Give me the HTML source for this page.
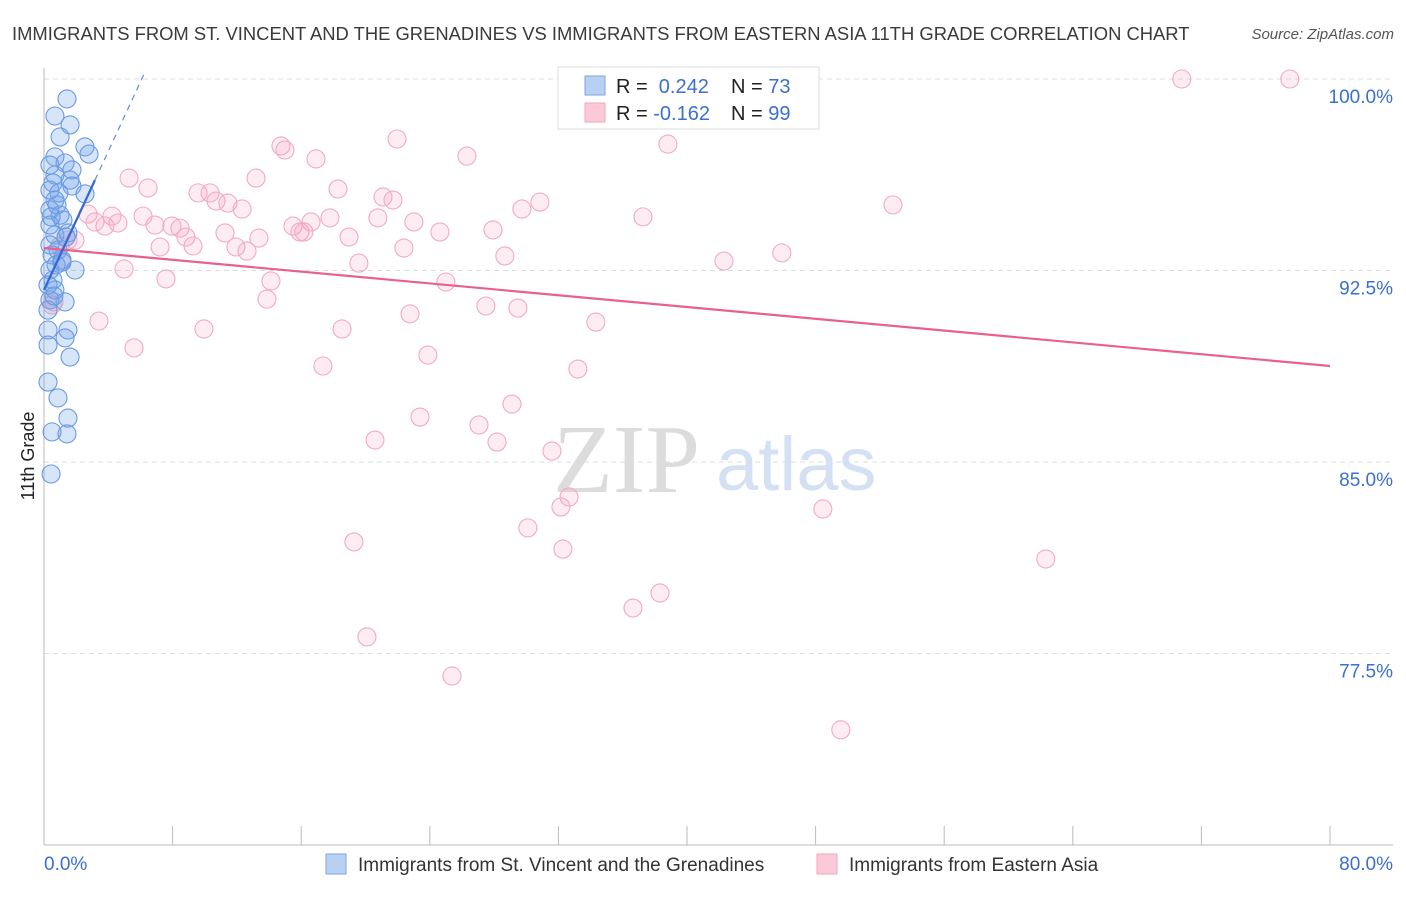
<!DOCTYPE html>
<html><head><meta charset="utf-8"><style>
body{margin:0;background:#fff;font-family:"Liberation Sans",sans-serif;}
svg text{font-family:"Liberation Sans",sans-serif;}
</style></head><body>
<svg id="chart" width="1406" height="892" viewBox="0 0 1406 892" xmlns="http://www.w3.org/2000/svg">
<text x="12" y="40" font-size="18.4" fill="#3a3a3a">IMMIGRANTS FROM ST. VINCENT AND THE GRENADINES VS IMMIGRANTS FROM EASTERN ASIA 11TH GRADE CORRELATION CHART</text>
<text x="1394" y="39" font-size="15" fill="#555" font-style="italic" text-anchor="end">Source: ZipAtlas.com</text>
<g id="grid"></g>
<text x="553" y="492" font-size="98" fill="#dcdcdc" style="font-family:'Liberation Serif',serif">ZIP</text>
<text x="716" y="490" font-size="76" fill="#d4e1f4">atlas</text>
<g id="points"></g>
<g id="lines"></g>
<text transform="translate(34,456) rotate(-90)" font-size="18" fill="#222" text-anchor="middle">11th Grade</text>
<g>
<rect x="558" y="67" width="261" height="62" fill="#fff" stroke="#ddd"/>
<rect x="585" y="76" width="20" height="19" fill="#b9d0f2" stroke="#7aa6e6"/>
<rect x="585" y="103" width="20" height="19" fill="#fbc9d8" stroke="#f3a6bf"/>
<text x="616" y="93" font-size="20" fill="#222">R = <tspan fill="#3b6fd0">&#160;0.242</tspan><tspan x="731">N = </tspan><tspan fill="#3b6fd0">73</tspan></text>
<text x="616" y="120" font-size="20" fill="#222">R = <tspan fill="#3b6fd0">-0.162</tspan><tspan x="731">N = </tspan><tspan fill="#3b6fd0">99</tspan></text>
</g>
<g>
<rect x="326" y="854" width="20" height="20" fill="#b9d0f2" stroke="#7aa6e6"/>
<text x="358" y="871" font-size="19" fill="#333">Immigrants from St. Vincent and the Grenadines</text>
<rect x="817" y="854" width="20" height="20" fill="#fbc9d8" stroke="#f3a6bf"/>
<text x="849" y="871" font-size="19" fill="#333">Immigrants from Eastern Asia</text>
</g>
</svg>
<script>
const xTicks=[0,8,16,24,32,40,48,56,64,72,80];
const yTicks=[77.5,85,92.5,100];
const yTickLabels=["77.5%","85.0%","92.5%","100.0%"];
const xEndLabels=["0.0%","80.0%"];
const blueX=[1.43,.68,1.62,1.00,2.55,2.80,.68,1.31,.37,1.74,.68,.56,1.74,2.55,.37,.68,.37,1.00,1.18,.37,.68,1.49,.37,.87,1.12,1.93,.37,.56,.68,.37,1.31,.25,1.49,1.31,.25,1.62,.25,.87,1.49,.50,1.43,.44,.50,.75,.25,.62,1.12,.81,.44,1.37,1.62,.93,.25];
const blueY=[99.22,98.55,98.20,97.73,97.34,97.06,96.95,96.71,96.63,96.44,96.24,95.93,95.81,95.50,95.65,95.26,94.87,94.67,94.48,94.28,93.89,93.97,93.50,93.30,92.91,92.52,92.52,92.13,91.74,91.35,91.27,90.95,90.17,89.86,89.58,89.11,88.13,87.51,86.72,86.18,86.10,84.53,93.11,92.72,91.93,91.50,92.83,95.07,94.60,93.81,96.04,95.54,90.17];
const pinkX=[34.15,37.76,40.93,43.17,70.78,77.50,38.81,21.96,14.74,14.99,16.92,26.31,5.29,6.47,13.19,9.58,10.33,10.70,11.44,12.32,18.29,21.09,21.71,30.85,29.73,52.81,37.26,6.16,4.23,2.74,3.79,4.60,3.17,7.96,8.46,6.90,8.83,11.26,13.37,15.49,15.92,16.17,16.61,17.79,18.97,20.77,23.01,24.63,27.93,1.49,1.00,1.93,7.22,9.27,11.94,12.63,22.39,28.67,19.59,4.98,42.30,45.90,1.12,7.59,14.12,25.00,13.87,27.49,29.48,.62,3.42,22.77,9.95,18.54,34.33,5.60,23.88,17.35,33.21,29.11,23.39,27.06,20.59,28.18,31.60,32.66,32.16,48.45,30.10,19.28,32.28,62.32,38.32,36.64,20.09,25.38,49.57,.5];
const pinkY=[99.96,99.96,99.96,99.96,100,100,97.45,97.65,97.38,97.22,96.87,96.98,96.12,95.73,96.12,95.54,95.54,95.22,95.14,94.91,95.69,95.38,95.26,95.18,94.91,95.07,94.60,94.63,94.63,94.71,94.24,94.36,94.40,94.24,94.16,94.28,93.81,93.97,93.77,94.24,94.01,94.01,94.40,94.56,93.81,94.56,94.40,94.01,94.09,93.69,93.46,93.69,93.42,93.46,93.42,93.26,93.38,93.07,92.79,92.56,92.87,93.19,92.83,92.17,92.09,92.05,91.38,91.11,91.03,91.27,90.52,90.80,90.21,90.21,90.48,89.47,89.19,88.76,88.64,87.27,86.76,86.45,85.86,85.78,85.43,83.63,83.24,83.16,82.42,81.87,81.59,81.20,79.87,79.28,78.15,76.62,74.51,91.15];
const pinkTrend=[93.38,88.76];
const blueTrend=[91.74,96.04,100.3];
const blueTrendX=[0,3.17,6.3];

const X0=44,X1=1330,Y100=79,PXPER=191.5/7.5;
const sx=v=>X0+(v/80)*(X1-X0);
const sy=v=>Y100+(100-v)*PXPER;
const NS="http://www.w3.org/2000/svg";
function mk(tag,attrs,parent){const e=document.createElementNS(NS,tag);for(const k in attrs)e.setAttribute(k,attrs[k]);parent.appendChild(e);return e;}
const grid=document.getElementById('grid');
yTicks.forEach((t,i)=>{
  const l=mk('line',{x1:44,x2:1393,y1:sy(t),y2:sy(t),stroke:'#dcdcdc','stroke-dasharray':'5,4'},grid);
  
  
  const tx=mk('text',{x:1393,y:sy(t)+24,'font-size':19,fill:'#3b6fd0','text-anchor':'end'},grid);
  tx.textContent=yTickLabels[i];
  
  
});
const ax=mk('line',{x1:44,x2:44,y1:68,y2:845,stroke:'#bbb'},grid);


const bx=mk('line',{x1:44,x2:1393,y1:845,y2:845,stroke:'#bbb'},grid);


xTicks.forEach(t=>{
  const l=mk('line',{x1:sx(t),x2:sx(t),y1:826,y2:845,stroke:'#bbb'},grid);
  
  
});
const xl0=mk('text',{x:44,y:870,'font-size':19,fill:'#3b6fd0'},grid);
xl0.textContent=xEndLabels[0];


const xl1=mk('text',{x:1393,y:870,'font-size':19,fill:'#3b6fd0','text-anchor':'end'},grid);
xl1.textContent=xEndLabels[1];



const pts=document.getElementById('points');
pinkX.forEach((v,i)=>{
  const c=mk('circle',{cx:sx(v),cy:sy(pinkY[i]),r:9,fill:'rgba(244,160,188,0.2)',stroke:'#f2aac2','stroke-width':1.1},pts);
  
  
});
blueX.forEach((v,i)=>{
  const c=mk('circle',{cx:sx(v),cy:sy(blueY[i]),r:9,fill:'rgba(110,160,235,0.28)',stroke:'#6a9ae3','stroke-width':1.1},pts);
  
  
});
const lines=document.getElementById('lines');
const pl=mk('line',{x1:sx(0),y1:sy(pinkTrend[0]),x2:sx(80),y2:sy(pinkTrend[1]),stroke:'#e8608f','stroke-width':2.2},lines);


const bl=mk('line',{x1:sx(blueTrendX[0]),y1:sy(blueTrend[0]),x2:sx(blueTrendX[1]),y2:sy(blueTrend[1]),stroke:'#3568d4','stroke-width':2.2},lines);


const bd=mk('line',{x1:sx(blueTrendX[1]),y1:sy(blueTrend[1]),x2:sx(blueTrendX[2]),y2:sy(blueTrend[2]),stroke:'#5b8fe0','stroke-width':1.2,'stroke-dasharray':'6,5'},lines);


</script>
</body></html>
